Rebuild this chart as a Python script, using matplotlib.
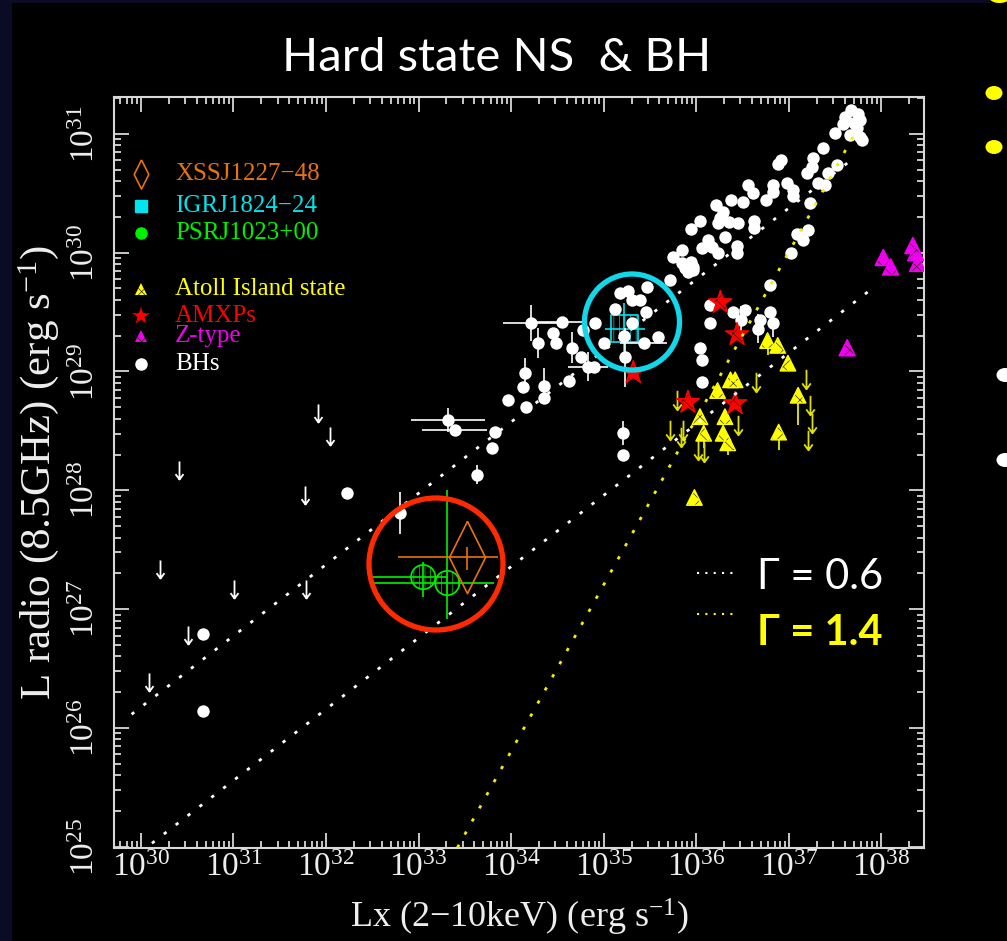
import numpy as np
import matplotlib
matplotlib.use("Agg")
import matplotlib.pyplot as plt
from matplotlib.patches import Ellipse, Rectangle
from matplotlib.lines import Line2D
from matplotlib.path import Path
from matplotlib.ticker import FixedLocator, NullFormatter

plt.rcParams['font.family'] = ['Liberation Serif', 'DejaVu Serif']
plt.rcParams['mathtext.fontset'] = 'custom'
plt.rcParams['mathtext.rm'] = 'Liberation Serif'
plt.rcParams['mathtext.it'] = 'Liberation Serif:italic'
plt.rcParams['mathtext.bf'] = 'Liberation Serif:bold'
plt.rcParams['hatch.linewidth'] = 0.45

# ---- data (log10 of erg/s) ----
# black holes
bh_lx = [37.67, 37.75, 37.61, 37.77, 37.70, 37.58, 37.50, 37.66, 37.77, 37.74, 37.79,
         37.37, 37.26, 36.88, 36.91, 37.25, 37.20, 37.42, 37.52, 37.32, 37.39,
         36.98, 37.04, 37.05, 36.83, 36.83, 36.56, 36.61, 36.50, 36.75, 37.23,
         36.37, 36.21, 36.29, 36.26, 36.24, 36.04, 35.94, 36.35, 36.45, 36.62,
         36.62, 36.31, 36.13, 36.17, 36.06, 36.23, 36.44, 36.44, 35.85, 35.75,
         35.94, 35.96, 35.88, 35.72, 37.09, 37.15, 37.21, 37.02, 36.80, 35.85,
         35.91, 35.97,
         35.26, 35.18, 35.47, 35.12, 35.31, 35.39, 35.46, 34.91, 35.31, 35.22,
         35.59, 35.00, 34.45, 34.78, 34.48, 34.75, 34.89, 34.13, 34.35, 33.97,
         34.16, 34.63, 36.04, 36.06, 36.06, 36.15, 36.15, 36.40, 36.53, 36.69,
         36.80, 33.83, 33.79, 35.21, 32.23, 30.67, 30.67]
bh_lr = [31.20, 31.17, 31.14, 31.12, 31.09, 31.08, 31.01, 30.99, 30.97, 31.05, 30.95,
         30.88, 30.80, 30.75, 30.78, 30.72, 30.67, 30.67, 30.74, 30.59, 30.57,
         30.59, 30.53, 30.48, 30.57, 30.51, 30.57, 30.50, 30.43, 30.44, 30.42,
         30.44, 30.40, 30.34, 30.29, 30.25, 30.27, 30.20, 30.26, 30.25, 30.27,
         30.21, 30.13, 30.11, 30.05, 30.04, 30.00, 30.06, 30.00, 30.02, 29.96,
         29.92, 29.85, 29.87, 29.77, 30.16, 30.11, 30.19, 30.00, 29.73, 29.91,
         29.84, 29.88,
         29.68, 29.66, 29.71, 29.53, 29.60, 29.60, 29.50, 29.41, 29.41, 29.30,
         29.29, 29.24, 29.32, 29.35, 29.24, 29.12, 29.04, 28.87, 28.78, 28.76,
         28.70, 28.92, 29.20, 29.10, 28.91, 29.41, 29.56, 29.50, 29.52, 29.43,
         29.50, 28.49, 28.36, 28.30, 27.98, 26.79, 26.14]

# black holes with error bars (dex)
bhe_lx = [34.21, 34.55, 34.29, 34.66, 34.83, 34.15, 34.35, 35.43, 35.23, 33.32, 33.39,
          32.80, 36.48, 36.67, 36.83, 35.21, 33.63]
bhe_lr = [29.41, 29.42, 29.24, 29.20, 29.04, 28.99, 28.88, 29.24, 29.12, 28.59, 28.51,
          27.81, 29.43, 29.36, 29.41, 28.48, 28.13]
bhe_xerr = [0.30, 0.27, 0.0, 0.0, 0.22, 0.0, 0.0, 0.25, 0.0, 0.40, 0.35,
            0.0, 0.0, 0.0, 0.0, 0.0, 0.0]
bhe_yerr = [0.15, 0.0, 0.13, 0.13, 0.12, 0.12, 0.15, 0.0, 0.25, 0.10, 0.0,
            0.18, 0.12, 0.12, 0.12, 0.10, 0.08]

# black hole upper limits
bhul_lx = [31.91, 32.04, 30.41, 31.77, 30.21, 31.01, 31.78, 30.51, 30.09]
bhul_lr = [28.65, 28.46, 28.17, 27.96, 27.34, 27.17, 27.17, 26.78, 26.39]

# atoll island state
at_lx = [36.77, 36.88, 36.99, 36.37, 36.42, 36.23, 37.10, 36.04, 36.31, 36.08,
         36.29, 36.34, 36.89, 35.98]
at_lr = [29.26, 29.22, 29.07, 28.93, 28.93, 28.84, 28.80, 28.62, 28.62, 28.48,
         28.48, 28.40, 28.49, 27.94]
at_yerr = [0.12, 0.0, 0.0, 0.0, 0.0, 0.0, 0.25, 0.0, 0.0, 0.12,
           0.0, 0.10, 0.15, 0.0]
atul_lx = [37.18, 36.64, 37.23, 37.25, 37.21, 35.72, 35.83, 35.86, 36.02, 36.08,
           36.45, 35.79]
atul_lr = [28.94, 28.91, 28.72, 28.57, 28.42, 28.51, 28.45, 28.51, 28.34, 28.32,
           28.55, 28.76]

# AMXPs and Z sources
amxp_lx = [36.26, 36.44, 35.32, 35.91, 36.42]
amxp_lr = [29.58, 29.31, 28.99, 28.74, 28.73]
z_lx = [38.34, 38.37, 38.02, 38.10, 38.39, 37.63]
z_lr = [30.06, 30.00, 29.96, 29.88, 29.91, 29.20]

# transitional ms pulsars: value, low, high
psr_lx = [33.05, 33.31]
psr_lr = [27.27, 27.22]
psr_lx_rng = [(32.51, 33.31), (32.51, 33.81)]
psr_lr_rng = [(27.10, 27.40), (26.92, 28.00)]
xss_lx, xss_lr = 33.52, 27.44
xss_lx_rng, xss_lr_rng = (32.78, 33.86), (27.33, 27.52)
igr_lx, igr_lr = 35.22, 29.36
igr_lx_rng, igr_lr_rng = (35.01, 35.45), (29.10, 29.58)

# fits: slope, intercept, lx range
fit_bh = (0.6, 8.175, 29.90, 37.70)
fit_ns = (0.6, 6.958, 30.12, 37.95)
fit_steep = (1.4, -21.795, 33.42, 37.75)

legend_labels = ["XSSJ1227\u221248", "IGRJ1824\u221224", "PSRJ1023+00",
                 "Atoll Island state", "AMXPs", "Z-type", "BHs"]
x_decades = np.arange(30, 39)
y_decades = np.arange(25, 32)

ORANGE = '#e8720c'
CYAN = '#00e4ee'
GREEN = '#00f000'
YELLOW = '#ffff00'
RED = '#ff0000'
MAGENTA = '#f000f0'
AX = '#d8d8d8'

W, H = 1007, 941
fig = plt.figure(figsize=(W / 100, H / 100), dpi=100)
fig.patch.set_facecolor('black')
fig.add_artist(Rectangle((0, 0), 12 / W, 1, transform=fig.transFigure, color='#0b0b26', lw=0))
fig.add_artist(Rectangle((0, 1 - 3 / H), 1, 3 / H, transform=fig.transFigure, color='#0b0b26', lw=0))

ax = fig.add_axes([114 / W, 93 / H, 810 / W, 751 / H])
ax.set_facecolor('black')
ax.set_xscale('log')
ax.set_yscale('log')
xlim = (10 ** 29.71, 10 ** 38.46)
ylim = (10 ** 24.99, 10 ** 31.31)
ax.set_xlim(*xlim)
ax.set_ylim(*ylim)


def p(a):
    return 10 ** np.asarray(a, dtype=float)


def rng_err(v, r):
    lo = np.array([x[0] for x in r])
    hi = np.array([x[1] for x in r])
    return [p(v) - p(lo), p(hi) - p(v)]


def minors(lo, hi):
    vals = [m * 10.0 ** d for d in range(int(np.floor(np.log10(lo))), int(np.ceil(np.log10(hi))))
            for m in range(2, 10)]
    return [v for v in vals if lo <= v <= hi]


def hatched(x, y, marker, s, col, hatch, **kw):
    # filled marker with dark hatching, then a coloured outline on top
    ax.scatter(x, y, marker=marker, s=s, facecolor=col, edgecolor='#202000', hatch=hatch, lw=0, **kw)
    ax.scatter(x, y, marker=marker, s=s, facecolor='none', edgecolor=col, lw=1.0, **kw)


# upper limit arrow marker
arrow = Path([(0, 0.5), (0, -0.5), (-0.22, -0.2), (0, -0.5), (0.22, -0.2)],
             [Path.MOVETO, Path.LINETO, Path.MOVETO, Path.LINETO, Path.LINETO])
diamond = Path([(0, 1), (0.5, 0), (0, -1), (-0.5, 0), (0, 1)])

# fit lines
for (s, c, x0, x1), col in [(fit_bh, 'white'), (fit_ns, 'white'), (fit_steep, '#f0f000')]:
    lx = np.linspace(x0, x1, 50)
    ax.plot(p(lx), p(s * lx + c), color=col, lw=2.0, ls=(0, (1.2, 4.2)), zorder=6)

# IGR J1824
ax.errorbar(p([igr_lx]), p([igr_lr]), xerr=rng_err([igr_lx], [igr_lx_rng]),
            yerr=rng_err([igr_lr], [igr_lr_rng]), fmt='none', ecolor=CYAN, elinewidth=1.2, zorder=2)
ax.scatter(p([igr_lx]), p([igr_lr]), marker='s', s=19.5 ** 2, facecolor='none',
           edgecolor=CYAN, hatch='|||', lw=1.2, zorder=2)

# black holes
ax.errorbar(p(bhe_lx), p(bhe_lr),
            xerr=[p(bhe_lx) - p(np.subtract(bhe_lx, bhe_xerr)), p(np.add(bhe_lx, bhe_xerr)) - p(bhe_lx)],
            yerr=[p(bhe_lr) - p(np.subtract(bhe_lr, bhe_yerr)), p(np.add(bhe_lr, bhe_yerr)) - p(bhe_lr)],
            fmt='none', ecolor='white', elinewidth=1.2, zorder=3)
ax.scatter(p(bh_lx + bhe_lx), p(bh_lr + bhe_lr), marker='o', s=80, color='white', lw=0, zorder=3)
ax.plot(p(bhul_lx), p(bhul_lr), ls='none', marker=arrow, ms=13, mfc='none', mec='white', mew=1.3, zorder=3)

# NS samples
ax.errorbar(p(at_lx), p(at_lr), yerr=[p(at_lr) - p(np.subtract(at_lr, at_yerr)), np.zeros(len(at_lr))],
            fmt='none', ecolor=YELLOW, elinewidth=1.2, zorder=4)
ax.plot(p(atul_lx), p(atul_lr), ls='none', marker=arrow, ms=14, mfc='none', mec='#e0e000', mew=1.3, zorder=4)
hatched(p(at_lx), p(at_lr), '^', 125, YELLOW, 'xx', zorder=4)
hatched(p(amxp_lx), p(amxp_lr), '*', 300, RED, 'xx', zorder=5)
hatched(p(z_lx), p(z_lr), '^', 135, MAGENTA, 'xx', zorder=5)

# PSR J1023 and XSS J1227
ax.errorbar(p(psr_lx), p(psr_lr), xerr=rng_err(psr_lx, psr_lx_rng), yerr=rng_err(psr_lr, psr_lr_rng),
            fmt='none', ecolor=GREEN, elinewidth=1.2, zorder=5)
ax.scatter(p(psr_lx), p(psr_lr), marker='o', s=17.5 ** 2, facecolor='none', edgecolor=GREEN,
           hatch='|||', lw=1.2, zorder=5)
ax.errorbar(p([xss_lx]), p([xss_lr]), xerr=rng_err([xss_lx], [xss_lx_rng]),
            yerr=rng_err([xss_lr], [xss_lr_rng]), fmt='none', ecolor=ORANGE, elinewidth=1.2, zorder=5)
ax.plot(p([xss_lx]), p([xss_lr]), ls='none', marker=diamond, ms=52, mfc='none', mec=ORANGE, mew=1.2, zorder=5)

# legend (drawn by hand, PGPLOT style)
leg_y = [0.8975, 0.8549, 0.8189, 0.7443, 0.7084, 0.6818, 0.6445]
leg_col = [ORANGE, CYAN, GREEN, YELLOW, RED, MAGENTA, 'white']
lx0, tx0 = 0.0333, 0.0753
ax.plot(lx0, leg_y[0], transform=ax.transAxes, marker=diamond, ms=21, mfc='none', mec=ORANGE, mew=1.2)
ax.plot(lx0, leg_y[1], transform=ax.transAxes, marker='s', ms=8, color=CYAN)
ax.plot(lx0, leg_y[2], transform=ax.transAxes, marker='o', ms=8, color=GREEN)
for yy, mk, sz, col in [(leg_y[3], '^', 75, YELLOW), (leg_y[4], '*', 180, RED), (leg_y[5], '^', 75, MAGENTA)]:
    ax.scatter(lx0, yy, transform=ax.transAxes, marker=mk, s=sz, facecolor=col,
               edgecolor='#202000', hatch='xx', lw=0)
ax.plot(lx0, leg_y[6], transform=ax.transAxes, marker='o', ms=8, color='white')
for lab, yy, col in zip(legend_labels, leg_y, leg_col):
    ax.text(tx0, yy, lab, transform=ax.transAxes, color=col, fontsize=18, va='center', ha='left')

# axes styling
for sp in ax.spines.values():
    sp.set_color(AX)
    sp.set_linewidth(1.5)
ax.tick_params(which='both', direction='in', top=True, right=True, color=AX, width=1.3)
ax.tick_params(which='major', length=11)
ax.tick_params(which='minor', length=5)
ax.tick_params(axis='x', which='major', labelsize=24, labelcolor='#eeeeee', pad=3)
ax.tick_params(axis='y', which='major', labelsize=24, labelcolor='#eeeeee', pad=9, labelrotation=90)
ax.xaxis.set_major_locator(FixedLocator(p(x_decades)))
ax.yaxis.set_major_locator(FixedLocator(p(y_decades)))
ax.xaxis.set_minor_locator(FixedLocator(minors(*xlim)))
ax.yaxis.set_minor_locator(FixedLocator(minors(*ylim)))
ax.xaxis.set_minor_formatter(NullFormatter())
ax.yaxis.set_minor_formatter(NullFormatter())
for t in ax.get_yticklabels():
    t.set_va('center')
ax.set_xlabel(r'Lx (2$-$10keV) (erg s$^{-1}$)', color='#eeeeee', fontsize=26, labelpad=10)
ax.set_ylabel(r'L radio (8.5GHz) (erg s$^{-1}$)', color='#eeeeee', fontsize=31, labelpad=7)

# slide overlays
fig.text(497 / W, 1 - 58 / H, 'Hard state NS  & BH', color='white', fontsize=34,
         family=['Lato', 'DejaVu Sans'], ha='center', va='center')
fig.add_artist(Ellipse((436 / W, 1 - 564 / H), 134 / W, 132 / H, transform=fig.transFigure,
                       fill=False, ec='#ff2a00', lw=3.8, zorder=10))
fig.add_artist(Ellipse((632 / W, 1 - 322 / H), 95 / W, 96 / H, transform=fig.transFigure,
                       fill=False, ec='#10d8ea', lw=3.8, zorder=10))
fig.add_artist(Line2D([697 / W, 737 / W], [1 - 573 / H, 1 - 573 / H], transform=fig.transFigure,
                      color='white', lw=1.5, ls=(0, (1, 3))))
fig.add_artist(Line2D([697 / W, 737 / W], [1 - 614 / H, 1 - 614 / H], transform=fig.transFigure,
                      color=YELLOW, lw=1.5, ls=(0, (1, 3))))
fig.text(757 / W, 1 - 577 / H, '\u0393 = 0.6', color='white', fontsize=30,
         family=['Lato', 'DejaVu Sans'], ha='left', va='center')
fig.text(757 / W, 1 - 633 / H, '\u0393 = 1.4', color=YELLOW, fontsize=30, fontweight='bold',
         family=['Lato', 'DejaVu Sans'], ha='left', va='center')
for yy, col in [(93, YELLOW), (147, YELLOW), (375, 'white'), (460, 'white')]:
    xx = 994 if col == YELLOW else 1005
    fig.add_artist(Ellipse((xx / W, 1 - yy / H), 17 / W, 14 / H, transform=fig.transFigure,
                           color=col, lw=0))
# bottom of a slide bullet heading, cut by the top edge as in the slide
fig.text(983 / W, 1 + 9 / H, 'C', color=YELLOW, fontsize=30, family=['Lato', 'DejaVu Sans'],
         ha='left', va='center')

fig.savefig('out.png', dpi=100, facecolor=fig.get_facecolor())
